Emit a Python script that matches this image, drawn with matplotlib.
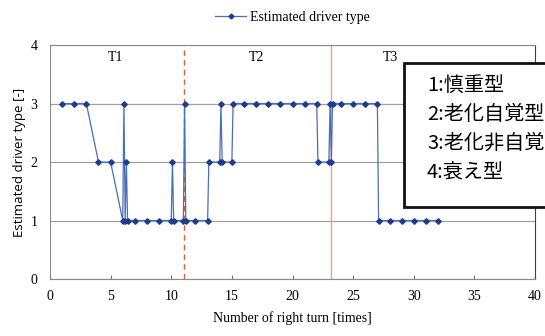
import matplotlib
matplotlib.use('Agg')
import matplotlib.pyplot as plt
from matplotlib.patches import Rectangle

# Estimated driver type for each right turn (clusters = several estimates in one turn)
turn = [1, 2, 3, 4, 5,
        6.0, 6.1, 6.2, 6.3, 6.4, 7, 8, 9,
        10.0, 10.1, 10.2, 11.0, 11.1, 11.2, 12, 13,
        13.1, 14.0, 14.1, 14.2, 15.0, 15.1, 16, 17, 18, 19, 20, 21, 22,
        22.1, 23.0, 23.1, 23.2, 23.3, 24, 25, 26, 27,
        27.1, 28, 29, 30, 31, 32]
driver_type = [3, 3, 3, 2, 2,
               1, 3, 1, 2, 1, 1, 1, 1,
               1, 2, 1, 1, 3, 1, 1, 1,
               2, 2, 3, 2, 2, 3, 3, 3, 3, 3, 3, 3, 3,
               2, 2, 3, 2, 3, 3, 3, 3, 3,
               1, 1, 1, 1, 1, 1]

# period boundaries and labels
t1_end = 11.05
t2_end = 23.15
period_names = ['T1', 'T2', 'T3']
period_label_x = [5.4, 17.0, 28.1]

type_legend = ['1:慎重型', '2:老化自覚型', '3:老化非自覚型', '4:衰え型']

serif = ['Liberation Serif', 'DejaVu Serif']

fig = plt.figure(figsize=(5.45, 3.36), dpi=100)
ax = fig.add_axes([0.0917, 0.1696, 0.89, 0.6964])

ax.plot(turn, driver_type, color='#4a6fb8', lw=0.9, marker='D', markersize=2.8,
        markerfacecolor='#1d3c8c', markeredgecolor='#1d3c8c',
        label='Estimated driver type', zorder=3)

ax.axvline(t1_end, color='#e0603a', lw=1.0, ls=(0, (4, 3)), zorder=2)
ax.axvline(t2_end, color='#f0a080', lw=1.0, zorder=2)

for name, px in zip(period_names, period_label_x):
    ax.text(px, 3.79, name, ha='center', va='center', fontsize=10, family=serif)

ax.set_xlim(0, 40)
ax.set_ylim(0, 4)
ax.set_xticks(range(0, 41, 5))
ax.set_yticks(range(0, 5))
ax.grid(axis='y', color='#a0a0a0', lw=0.9)
ax.tick_params(axis='x', direction='in', length=3, color='#707070', labelsize=10, pad=8)
ax.tick_params(axis='y', length=0, labelsize=10, pad=9)
for lab in ax.get_xticklabels() + ax.get_yticklabels():
    lab.set_family(serif)
for side in ['left', 'bottom', 'top']:
    ax.spines[side].set_color('#8a8a8a')
ax.spines['right'].set_color('#404040')

ax.set_xlabel('Number of right turn [times]', fontsize=10, family=serif, labelpad=6)
ax.set_ylabel('Estimated driver type [-]', fontsize=9.5, family=['Open Sans', 'DejaVu Sans'],
              labelpad=3)

leg = ax.legend(loc='lower center', bbox_to_anchor=(0.5, 1.035), frameon=False,
                prop={'family': serif, 'size': 10}, handlelength=2.2, handletextpad=0.3,
                markerscale=0.9)

# type legend box, running past the right edge like the original
ax.add_patch(Rectangle((29.2, 1.23), 14, 2.46, transform=ax.transData, fc='white',
                       ec='#111111', lw=2, clip_on=False, zorder=5))
ax.text(31.1, 2.565, '\n'.join(type_legend), ha='left', va='center', fontsize=14.5,
        family=['Noto Sans CJK JP', 'DejaVu Sans'], linespacing=1.5, zorder=6,
        clip_on=False)

fig.savefig('out.png', dpi=100)
